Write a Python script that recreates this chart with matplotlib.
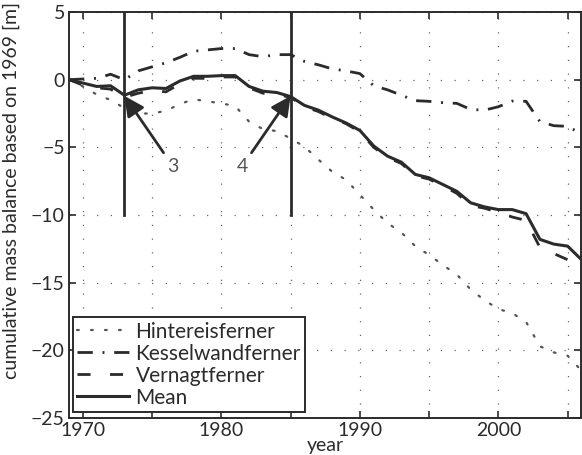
import matplotlib
matplotlib.use("Agg")
import matplotlib.pyplot as plt

plt.rcParams['font.family'] = ['Lato', 'DejaVu Sans']

years = list(range(1969, 2007))

hintereis = [0, -0.5, -1.1, -1.5, -2.1, -2.5, -2.5, -2.3, -1.8, -1.45,
             -1.6, -1.75, -1.95, -3.1, -3.65, -3.8, -4.35, -4.95, -5.9, -6.8,
             -7.4, -8.5, -9.6, -10.6, -11.3, -12.3, -12.95, -13.7, -14.4, -15.5,
             -16.3, -16.95, -17.25, -17.9, -19.7, -20.15, -20.4, -21.5]
kesselwand = [0, 0.05, 0.1, 0.4, 0.0, 0.65, 0.95, 1.25, 1.65, 2.1,
              2.2, 2.3, 2.3, 1.85, 1.7, 1.85, 1.85, 1.35, 1.1, 0.8,
              0.65, 0.45, -0.45, -0.75, -1.15, -1.55, -1.6, -1.7, -1.75, -2.2,
              -2.25, -2.0, -1.58, -1.6, -3.1, -3.4, -3.45, -4.0]
vernagt = [0, -0.4, -0.6, -0.7, -1.3, -1.0, -0.8, -0.9, -0.3, 0.1,
           0.1, 0.2, 0.2, -0.6, -1.0, -1.1, -1.3, -2.0, -2.35, -2.85,
           -3.25, -3.85, -5.0, -5.75, -6.2, -7.1, -7.35, -7.85, -8.4, -9.3,
           -9.5, -9.8, -10.15, -10.4, -12.4, -12.85, -13.3, -13.9]
mean = [0, -0.25, -0.5, -0.45, -1.15, -0.75, -0.6, -0.65, -0.1, 0.25,
        0.25, 0.3, 0.3, -0.5, -0.85, -0.95, -1.25, -1.9, -2.25, -2.75,
        -3.2, -3.75, -4.9, -5.65, -6.1, -7.0, -7.25, -7.75, -8.25, -9.1,
        -9.4, -9.6, -9.6, -9.9, -11.8, -12.15, -12.3, -13.3]

marker_years = [1973, 1985]
marker_labels = ['3', '4']
marker_values = [-1.2, -1.2]
label_pos = [(1976.5, -6.4), (1981.5, -6.4)]

xticks = list(range(1970, 2006, 5))
xticklabels = [str(t) if t % 10 == 0 else '' for t in xticks]
yticks = list(range(-25, 6, 5))

dark = '#2b2b2b'

fig = plt.figure(figsize=(5.82, 4.55), dpi=100)
ax = fig.add_axes([0.1186, 0.0813, 0.8805, 0.8923])

ax.plot(years, hintereis, color='#555555', lw=1.6, linestyle=(0, (0.8, 5.5)),
        dash_capstyle='round', label='Hintereisferner')
ax.plot(years, kesselwand, color=dark, lw=2.0, linestyle=(0, (5.5, 3.5, 0.7, 3.5)),
        label='Kesselwandferner')
ax.plot(years, vernagt, color=dark, lw=2.0, linestyle=(0, (4.7, 7.0)),
        label='Vernagtferner')
ax.plot(years, mean, color=dark, lw=2.2, label='Mean')

for yr in marker_years:
    ax.plot([yr, yr], [-10, 5], color=dark, lw=2.0)

for lab, yr, v, pos in zip(marker_labels, marker_years, marker_values, label_pos):
    ax.annotate(lab, xy=(yr, v), xytext=pos, ha='center', va='center',
                fontsize=14, color='#555555',
                arrowprops=dict(arrowstyle='-|>,head_length=0.8,head_width=0.4',
                                color=dark, lw=2.0, mutation_scale=15,
                                shrinkA=2, shrinkB=0))

ax.set_xlim(1969, 2006)
ax.set_ylim(-25, 5)
ax.set_xticks(xticks)
ax.set_xticklabels(xticklabels)
ax.set_yticks(yticks)
ax.set_yticklabels([str(t).replace('-', '\u2212') for t in yticks])
ax.tick_params(direction='in', top=True, right=True, length=5, width=1.2,
               labelsize=14, colors=dark, pad=3)
ax.grid(True, color='#666666', lw=0.9, linestyle=(0, (1.0, 10.0)))
for s in ax.spines.values():
    s.set_color(dark)
    s.set_linewidth(1.4)

ax.set_xlabel('year', fontsize=14, color=dark, labelpad=-1.5)
ax.set_ylabel('cumulative mass balance based on 1969 [m]', fontsize=14, color=dark)
ax.yaxis.set_label_coords(-0.095, 0.56)

leg = ax.legend(loc='lower left', bbox_to_anchor=(0.008, 0.015), borderaxespad=0,
                fontsize=15, handlelength=2.5, handletextpad=0.3, labelspacing=0.1,
                borderpad=0.2, fancybox=False, framealpha=1, edgecolor=dark)
leg.get_frame().set_linewidth(1.4)
for t in leg.get_texts():
    t.set_color(dark)

fig.savefig('out.png', dpi=100)
